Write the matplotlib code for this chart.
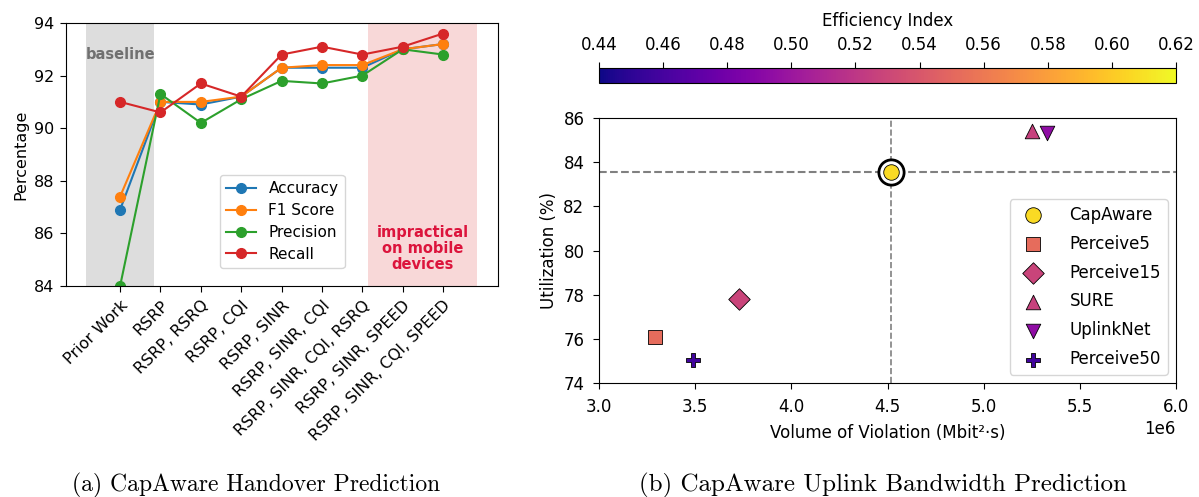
import numpy as np
import matplotlib.pyplot as plt
import matplotlib as mpl

# (a) handover prediction
features = ['Prior Work', 'RSRP', 'RSRP, RSRQ', 'RSRP, CQI', 'RSRP, SINR',
            'RSRP, SINR, CQI', 'RSRP, SINR, CQI, RSRQ', 'RSRP, SINR, SPEED',
            'RSRP, SINR, CQI, SPEED']
accuracy = [86.9, 91.0, 90.9, 91.2, 92.3, 92.3, 92.3, 93.0, 93.2]
f1_score = [87.4, 91.0, 91.0, 91.2, 92.3, 92.4, 92.4, 93.0, 93.2]
precision = [84.0, 91.3, 90.2, 91.1, 91.8, 91.7, 92.0, 93.0, 92.8]
recall = [91.0, 90.6, 91.7, 91.2, 92.8, 93.1, 92.8, 93.1, 93.6]

# (b) uplink bandwidth prediction
models = ['CapAware', 'Perceive5', 'Perceive15', 'SURE', 'UplinkNet', 'Perceive50']
violation = [4.52e6, 3.29e6, 3.73e6, 5.25e6, 5.33e6, 3.49e6]
utilization = [83.55, 76.1, 77.8, 85.4, 85.33, 75.05]
efficiency = [0.607, 0.553, 0.528, 0.526, 0.494, 0.458]
markers = ['o', 's', 'D', '^', 'v', 'P']
sizes = [125, 105, 120, 110, 110, 110]

fig = plt.figure(figsize=(11.99, 4.97), dpi=100)
W, H = 1199, 497

# ---- left panel
ax1 = fig.add_axes([66 / W, 1 - 286 / H, (498 - 66) / W, (286 - 23) / H])
x = np.arange(len(features))
ax1.axvspan(-0.85, 0.85, color='#dddddd', lw=0)
ax1.axvspan(6.15, 8.85, color='#f8d8d8', lw=0)
ax1.plot(x, accuracy, '-o', color='tab:blue', label='Accuracy', lw=1.5, ms=7)
ax1.plot(x, f1_score, '-o', color='tab:orange', label='F1 Score', lw=1.5, ms=7)
ax1.plot(x, precision, '-o', color='tab:green', label='Precision', lw=1.5, ms=7)
ax1.plot(x, recall, '-o', color='tab:red', label='Recall', lw=1.5, ms=7)
ax1.set_xlim(-1.34, 9.36)
ax1.set_ylim(84, 94)
ax1.set_yticks([84, 86, 88, 90, 92, 94])
ax1.tick_params(labelsize=11.5, length=4.5, pad=4)
ax1.set_xticks(x)
ax1.set_xticklabels(features, rotation=45, ha='right', rotation_mode='anchor', fontsize=11.5)
ax1.set_ylabel('Percentage', fontsize=11.5)
ax1.text(0, 92.82, 'baseline', ha='center', va='center', color='#707070',
         fontweight='bold', fontsize=10.5)
ax1.text(7.5, 85.42, 'impractical\non mobile\ndevices', ha='center', va='center',
         color='crimson', fontweight='bold', fontsize=10.5, linespacing=1.1)
ax1.legend(loc='lower center', bbox_to_anchor=(0.5, 0.04), fontsize=11,
           labelspacing=0.45)

# ---- right panel
ax2 = fig.add_axes([599 / W, 1 - 383 / H, (1176 - 599) / W, (383 - 118) / H])
cax = fig.add_axes([599 / W, 1 - 83 / H, (1176 - 599) / W, 15 / H])
norm = mpl.colors.Normalize(0.44, 0.62)
cmap = plt.get_cmap('plasma')

ax2.axvline(violation[0], color='gray', ls='--', lw=1.2, zorder=1)
ax2.axhline(utilization[0], color='gray', ls='--', lw=1.5, zorder=1)
ax2.scatter(violation[0], utilization[0], s=330, facecolor='white',
            edgecolor='black', lw=2, zorder=2)
for i in range(len(models)):
    ax2.scatter(violation[i], utilization[i], s=sizes[i], marker=markers[i],
                color=cmap(norm(efficiency[i])), edgecolor='black', lw=0.6,
                label=models[i], zorder=3)
ax2.set_xlim(3e6, 6e6)
ax2.set_ylim(74, 86)
ax2.set_yticks([74, 76, 78, 80, 82, 84, 86])
ax2.tick_params(labelsize=12, length=4.5, pad=6)
ax2.xaxis.get_offset_text().set_fontsize(12)
ax2.set_xlabel('Volume of Violation (Mbit²·s)', fontsize=12, labelpad=6)
ax2.set_ylabel('Utilization (%)', fontsize=12)
ax2.legend(loc='lower right', fontsize=12, borderaxespad=0.5,
           labelspacing=0.65, handletextpad=1.2)

cb = fig.colorbar(mpl.cm.ScalarMappable(norm=norm, cmap=cmap), cax=cax,
                  orientation='horizontal')
cb.set_ticks(np.arange(0.44, 0.621, 0.02))
cb.ax.xaxis.set_ticks_position('top')
cb.ax.xaxis.set_label_position('top')
cb.ax.tick_params(labelsize=12, length=4.5, pad=5.5)
cb.set_label('Efficiency Index', fontsize=12, labelpad=7)

fig.text(256 / W, 1 - 485 / H, '(a) CapAware Handover Prediction',
         family='cmr10', fontsize=17, ha='center', va='center')
fig.text(883 / W, 1 - 485 / H, '(b) CapAware Uplink Bandwidth Prediction',
         family='cmr10', fontsize=18, ha='center', va='center')

fig.savefig('out.png', dpi=100)
